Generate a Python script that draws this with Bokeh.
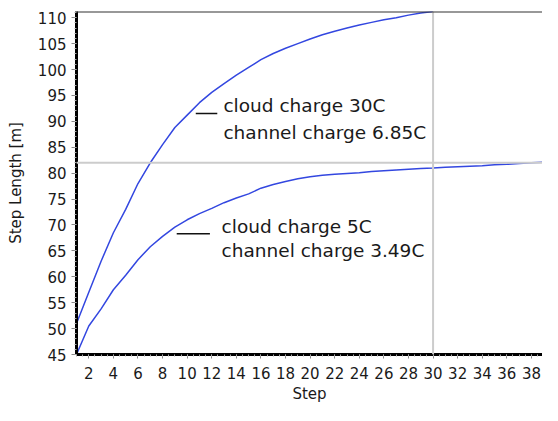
from bokeh.plotting import figure
from bokeh.models import Span, FixedTicker
from bokeh.core.properties import value
from bokeh.embed import file_html
from bokeh.resources import INLINE

# ---- data ----
steps_hi = list(range(1, 31))
len_hi = [51.0, 57.0, 63.0, 68.5, 73.0, 78.0, 82.0, 85.5, 88.8, 91.2,
          93.6, 95.6, 97.3, 98.9, 100.4, 101.9, 103.1, 104.1, 105.0, 105.9,
          106.7, 107.4, 108.0, 108.6, 109.1, 109.6, 110.0, 110.5, 110.9, 111.2]
steps_lo = list(range(1, 40))
len_lo = [45.0, 50.5, 53.8, 57.5, 60.3, 63.3, 65.8, 67.8, 69.6, 71.0,
          72.2, 73.2, 74.3, 75.2, 76.0, 77.1, 77.8, 78.4, 78.9, 79.3,
          79.6, 79.8, 79.95, 80.1, 80.3, 80.45, 80.6, 80.75, 80.9, 81.0,
          81.15, 81.25, 81.35, 81.45, 81.6, 81.7, 81.85, 82.0, 82.1]

label_lines = [["cloud charge 30C", "channel charge 6.85C"],
               ["cloud charge 5C", "channel charge 3.49C"]]
# annotation anchors (data space)
label_x = [12.95, 12.8]
label_y = [[93.0, 87.9], [69.7, 65.0]]
dash_x0 = [10.7, 9.15]
dash_x1 = [12.45, 11.85]
dash_y = [91.5, 68.3]

cross_x = 30
cross_y = 82

x_start, x_end = 1, 38.9
y_start, y_end = 45, 111.2

y_ticks = list(range(45, 111, 5))
x_ticks = list(range(2, 39, 2))

FONT = "DejaVu Sans"
TXT = "#1a1a1a"
BLUE = "#3347e0"

p = figure(width=542, height=405, output_backend="svg", toolbar_location=None,
           x_range=(x_start, x_end), y_range=(y_start, y_end),
           min_border_left=76, min_border_right=0, min_border_top=11,
           min_border_bottom=50)
p.background_fill_color = "white"
p.border_fill_color = "white"
p.outline_line_color = None
p.grid.visible = False

# crosshair lines
p.add_layout(Span(location=cross_x, dimension="height", line_color="#cccccc", line_width=2))
p.add_layout(Span(location=cross_y, dimension="width", line_color="#cccccc", line_width=2))
# top border
p.add_layout(Span(location=y_end, dimension="width", line_color="#333333", line_width=2))

p.line(steps_hi, len_hi, line_color=BLUE, line_width=1.5)
p.line(steps_lo, len_lo, line_color=BLUE, line_width=1.5)

for i in range(2):
    p.segment(x0=[dash_x0[i]], y0=[dash_y[i]], x1=[dash_x1[i]], y1=[dash_y[i]],
              line_color="#111111", line_width=1.5)
    for j in range(2):
        p.text(x=[label_x[i]], y=[label_y[i][j]], text=[label_lines[i][j]],
               text_font=value(FONT), text_font_size="18.5px", text_color=TXT,
               text_align="left", text_baseline="alphabetic")

for ax in (p.xaxis[0], p.yaxis[0]):
    ax.axis_line_color = "black"
    ax.axis_line_width = 3
    ax.major_tick_line_color = "#888888"
    ax.minor_tick_line_color = "#aaaaaa"
    ax.major_tick_in = 0
    ax.major_tick_out = 5
    ax.minor_tick_in = 0
    ax.minor_tick_out = 2
    ax.major_label_text_font = FONT
    ax.major_label_text_font_size = "15px"
    ax.major_label_text_color = TXT
    ax.axis_label_text_font = FONT
    ax.axis_label_text_font_size = "15px"
    ax.axis_label_text_font_style = "normal"
    ax.axis_label_text_color = TXT

p.xaxis.ticker = FixedTicker(ticks=x_ticks, minor_ticks=[x / 2 for x in range(2, 78)])
p.yaxis.ticker = FixedTicker(ticks=y_ticks, minor_ticks=list(range(45, 112)))
p.xaxis.axis_label = "Step"
p.yaxis.axis_label = "Step Length [m]"
p.xaxis.major_tick_out = 4
p.xaxis.major_label_standoff = 8
p.xaxis.axis_label_standoff = 3
p.yaxis.major_label_standoff = 5
p.yaxis.axis_label_standoff = 10

open("out.html", "w").write(file_html(p, INLINE))
